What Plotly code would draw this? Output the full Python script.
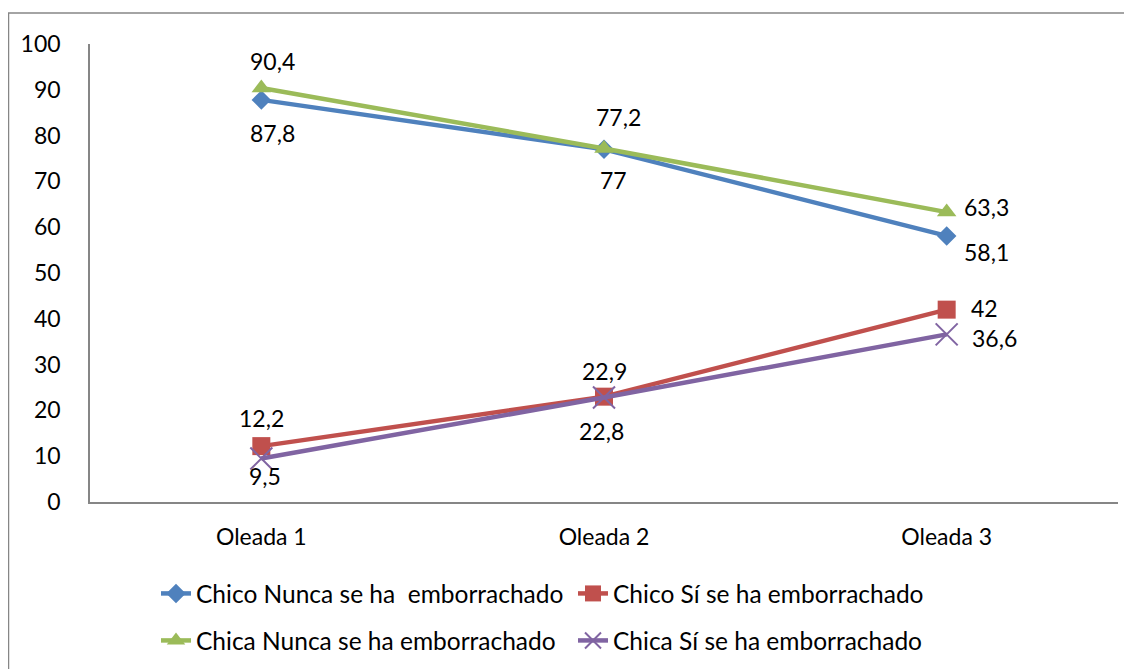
import plotly.graph_objects as go

categories = ["Oleada 1", "Oleada 2", "Oleada 3"]
chico_nunca = [87.8, 77, 58.1]
chico_si = [12.2, 23, 42]
chica_nunca = [90.4, 77.2, 63.3]
chica_si = [9.5, 22.8, 36.6]
chico_si_labels = ["12,2", "22,9", "42"]
y_ticks = [0, 10, 20, 30, 40, 50, 60, 70, 80, 90, 100]

def lab(vals):
    return [str(v).replace(".", ",") for v in vals]

FONT = "Lato"
FS = 23
LFS = 24.5

series = [
    dict(name="Chico Nunca se ha\u00a0 emborrachado", y=chico_nunca, text=lab(chico_nunca),
         color="#4F81BD", marker=dict(symbol="diamond", size=15), legend="legend",
         offs=[(11, 33), (9, 31), (40, 16)]),
    dict(name="Chico Sí se ha emborrachado", y=chico_si, text=chico_si_labels,
         color="#C0504D", marker=dict(symbol="square", size=18), legend="legend",
         offs=[(0, -28), (0, -26), (38, -2)]),
    dict(name="Chica Nunca se ha emborrachado", y=chica_nunca, text=lab(chica_nunca),
         color="#9BBB59", marker=dict(symbol="triangle-up", size=17), legend="legend2",
         offs=[(11, -27), (14, -31), (40, -5)]),
    dict(name="Chica Sí se ha emborrachado", y=chica_si, text=lab(chica_si),
         color="#8064A2", marker=dict(symbol="x-thin-open", size=22, line=dict(width=2)),
         legend="legend2", offs=[(4, 18), (-3, 33), (48, 4)]),
]

fig = go.Figure()
annotations = []
for s in series:
    mk = dict(s["marker"])
    mk["color"] = s["color"]
    if "line" in mk:
        mk["line"] = dict(width=mk["line"]["width"], color=s["color"])
    fig.add_trace(go.Scatter(
        x=categories, y=s["y"], name=s["name"], mode="lines+markers",
        line=dict(color=s["color"], width=4.5), marker=mk, legend=s["legend"]))
    for cat, val, txt, (dx, dy) in zip(categories, s["y"], s["text"], s["offs"]):
        annotations.append(dict(x=cat, y=val, xref="x", yref="y", text=txt,
                                showarrow=False, xshift=dx, yshift=-dy,
                                font=dict(family=FONT, size=FS, color="#000000")))

W, H = 1132, 669
L, R, T, B = 82, 22, 36, 175
pw = W - L - R
ph = H - T - B

def px_to_paper_x(px):
    return (px - L) / pw

def px_to_paper_y(py):
    return (H - B - py) / ph

fig.update_layout(
    width=W, height=H,
    margin=dict(l=L, r=R, t=T, b=B, autoexpand=False),
    paper_bgcolor="white", plot_bgcolor="white",
    font=dict(family=FONT, size=FS, color="#000000"),
    xaxis=dict(range=[-0.5, 2.5], showgrid=False, showline=True, linecolor="#868686", linewidth=1.5,
               ticks="", ticklabelstandoff=14, zeroline=False),
    yaxis=dict(range=[0, 100], tickvals=y_ticks, showgrid=False, showline=True,
               linecolor="#868686", linewidth=1.5, ticks="", ticklabelstandoff=23,
               zeroline=False),
    legend=dict(orientation="h", x=px_to_paper_x(148), y=px_to_paper_y(563),
                xanchor="left", yanchor="top", entrywidth=372, entrywidthmode="pixels",
                font=dict(family=FONT, size=LFS), bgcolor="rgba(0,0,0,0)"),
    legend2=dict(orientation="h", x=px_to_paper_x(148), y=px_to_paper_y(610),
                 xanchor="left", yanchor="top", entrywidth=372, entrywidthmode="pixels",
                 font=dict(family=FONT, size=LFS), bgcolor="rgba(0,0,0,0)"),
    annotations=annotations,
    shapes=[dict(type="rect", xref="paper", yref="paper",
                 x0=px_to_paper_x(0.5), x1=px_to_paper_x(1300),
                 y0=px_to_paper_y(800), y1=px_to_paper_y(5),
                 line=dict(color="#868686", width=1.5), fillcolor="rgba(0,0,0,0)")],
)

fig.write_html("out.html")
